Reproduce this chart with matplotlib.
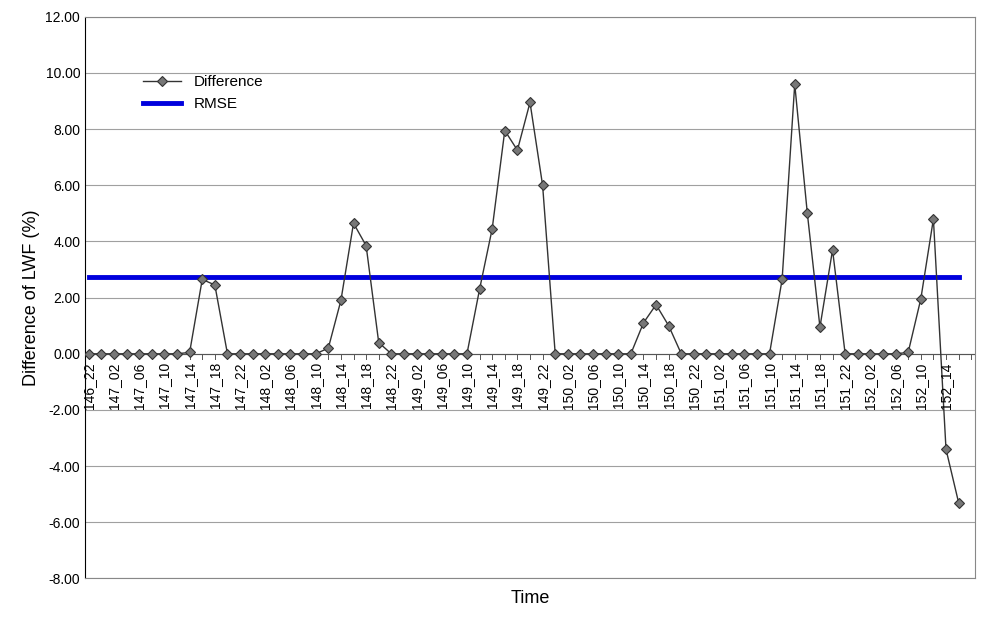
import matplotlib
matplotlib.use("Agg")
import matplotlib.pyplot as plt
import numpy as np

categories = []
d, h = 146, 22
for _ in range(71):
    categories.append(f"{d}_{h:02d}")
    h += 2
    if h == 24:
        h = 0
        d += 1

difference = [0, 0, 0, 0, 0, 0, 0, 0, 0.05, 2.65, 2.45, 0, 0, 0, 0, 0, 0, 0, 0, 0.2,
              1.9, 4.65, 3.85, 0.4, 0, 0, 0, 0, 0, 0, 0, 2.3, 4.45, 7.95, 7.25, 8.95,
              6.0, 0, 0, 0, 0, 0, 0, 0, 1.1, 1.75, 1.0, 0, 0, 0, 0, 0, 0, 0, 0, 2.65,
              9.6, 5.0, 0.95, 3.7, 0, 0, 0, 0, 0, 0.05, 1.95, 4.8, -3.4, -5.3]
rmse = 2.73

plt.rcParams['font.family'] = ['Arial', 'Liberation Sans', 'DejaVu Sans']
fig = plt.figure(figsize=(10, 6.22), dpi=100)
ax = fig.add_axes([0.085, 0.07, 0.89, 0.903])
x = np.arange(len(difference))
ax.set_xlim(-0.3, 70.3)
ax.set_ylim(-8, 12)
for yv in np.arange(-8, 13, 2):
    ax.axhline(yv, color='#a0a0a0', lw=0.8, zorder=0)
ax.plot(x, difference, color='#333333', lw=1, marker='D', ms=5,
        mfc='#777777', mec='#333333', mew=0.8, label='Difference', zorder=3)
ax.plot([x[0], x[-1]], [rmse, rmse], color='#0000dd', lw=3.5, label='RMSE', zorder=2)
ax.axhline(0, color='#555555', lw=0.8, zorder=1)
for i in range(len(categories)):
    ax.plot([i, i], [0, -0.2], color='#555555', lw=0.7, zorder=1)
for i in range(0, len(categories) - 1, 2):
    ax.text(i, -0.3, categories[i], rotation=90, ha='center', va='top', fontsize=10)
ax.set_xticks([])
ax.set_yticks(np.arange(-8, 13, 2))
ax.set_yticklabels([f"{v:.2f}" for v in np.arange(-8, 13, 2)], fontsize=10)
ax.tick_params(axis='y', length=0)
for s in ax.spines.values():
    s.set_color('#888888')
ax.spines['left'].set_color('black')
ax.set_ylabel('Difference of LWF (%)', fontsize=13)
ax.set_xlabel('Time', fontsize=13, labelpad=8)
ax.legend(loc='upper left', bbox_to_anchor=(0.05, 0.92), frameon=False, fontsize=11,
          handlelength=2.5)
fig.savefig('out.png')
